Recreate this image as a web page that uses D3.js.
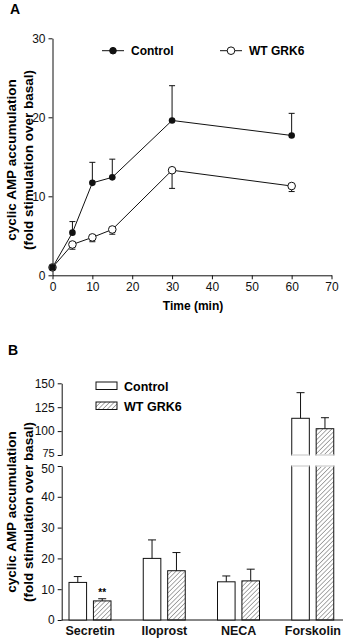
<!DOCTYPE html>
<html>
<head>
<meta charset="utf-8">
<script src="https://cdn.jsdelivr.net/npm/d3@7"></script>
<style>
  body { margin: 0; background: #fff; }
  svg { font-family: "Liberation Sans", Arial, sans-serif; }
  .tick text { font-size: 12px; fill: #111; }
</style>
</head>
<body>
<div id="chart"></div>
<script>
// Panel A data: time course
const times = [0, 5, 10, 15, 30, 60];
const controlMean = [1, 5.4, 11.7, 12.4, 19.6, 17.7];
const controlErr = [0, 1.4, 2.6, 2.3, 4.4, 2.8];
const grkMean = [1, 3.9, 4.8, 5.8, 13.3, 11.3];
const grkErr = [0, 0.6, 0.55, 0.6, 2.3, 0.7];
const xTicksA = [0, 10, 20, 30, 40, 50, 60, 70];
const yTicksA = [0, 10, 20, 30];

// Panel B data: agonists
const agonists = ["Secretin", "Iloprost", "NECA", "Forskolin"];
const barControl = [12.2, 20.0, 12.4, 113.4];
const barControlErr = [1.9, 6.0, 1.9, 26.8];
const barGrk = [6.2, 16.0, 12.7, 102.5];
const barGrkErr = [0.7, 5.9, 3.8, 11.5];
const yTicksLow = [0, 10, 20, 30, 40, 50];
const yTicksHigh = [75, 100, 125, 150];

const svg = d3.select("#chart").append("svg")
    .attr("width", 345)
    .attr("height", 640);

// hatch pattern
svg.append("defs").append("pattern")
    .attr("id", "hatch")
    .attr("patternUnits", "userSpaceOnUse")
    .attr("width", 3.2)
    .attr("height", 3.2)
    .attr("patternTransform", "rotate(45)")
    .append("line")
    .attr("x1", 0).attr("y1", 0).attr("x2", 0).attr("y2", 3.2)
    .attr("stroke", "#666")
    .attr("stroke-width", 1.1);

// ---------- Panel A ----------
const x = d3.scaleLinear().domain([0, 70]).range([52.5, 331.5]);
const y = d3.scaleLinear().domain([0, 30]).range([275.3, 38.3]);

svg.append("text").attr("x", 10).attr("y", 14)
    .style("font-size", "14px").style("font-weight", "bold").text("A");

svg.append("g")
    .attr("transform", `translate(0,${y(0)})`)
    .call(d3.axisBottom(x).tickValues(xTicksA).tickSize(4).tickSizeOuter(0))
    .call(g => g.selectAll("line, path").attr("stroke", "#111"));

svg.append("g")
    .attr("transform", `translate(${x(0)},0)`)
    .call(d3.axisLeft(y).tickValues(yTicksA).tickSize(4).tickSizeOuter(0))
    .call(g => g.selectAll("line, path").attr("stroke", "#111"));

svg.append("text")
    .attr("x", 193).attr("y", 310)
    .attr("text-anchor", "middle")
    .style("font-size", "12px").style("font-weight", "bold")
    .text("Time (min)");

function yLabel(cx, cy) {
    const t = svg.append("text")
        .attr("transform", `translate(${cx},${cy}) rotate(-90)`)
        .attr("text-anchor", "middle")
        .style("font-size", "13.5px").style("font-weight", "bold");
    t.append("tspan").attr("x", 0).attr("y", 0).text("cyclic AMP accumulation");
    t.append("tspan").attr("x", 0).attr("y", 16.5).text("(fold stimulation over basal)");
}
yLabel(16, 160);

const line = d3.line().x(d => x(d[0])).y(d => y(d[1]));
const ctrlPts = times.map((t, i) => [t, controlMean[i], controlErr[i]]);
const grkPts = times.map((t, i) => [t, grkMean[i], grkErr[i]]);

function errBars(pts, dir) {
    const g = svg.append("g").attr("stroke", "#111").attr("stroke-width", 1);
    pts.filter(d => d[2] > 0).forEach(d => {
        const y1 = y(d[1] + dir * d[2]);
        g.append("line").attr("x1", x(d[0])).attr("x2", x(d[0]))
            .attr("y1", y(d[1])).attr("y2", y1);
        g.append("line").attr("x1", x(d[0]) - 3).attr("x2", x(d[0]) + 3)
            .attr("y1", y1).attr("y2", y1);
    });
}
errBars(ctrlPts, 1);
errBars(grkPts, -1);

svg.append("path").datum(grkPts).attr("d", line)
    .attr("fill", "none").attr("stroke", "#111").attr("stroke-width", 1);
svg.append("path").datum(ctrlPts).attr("d", line)
    .attr("fill", "none").attr("stroke", "#111").attr("stroke-width", 1);

svg.selectAll(".grk").data(grkPts).enter().append("circle")
    .attr("cx", d => x(d[0])).attr("cy", d => y(d[1])).attr("r", 3.8)
    .attr("fill", "#fff").attr("stroke", "#111").attr("stroke-width", 1);
svg.selectAll(".ctrl").data(ctrlPts).enter().append("circle")
    .attr("cx", d => x(d[0])).attr("cy", d => y(d[1])).attr("r", 3.3)
    .attr("fill", "#111");

// legend A
const legA = [
    { x: 102, label: "Control", fill: "#111" },
    { x: 220, label: "WT GRK6", fill: "#fff" }
];
legA.forEach(l => {
    svg.append("line").attr("x1", l.x).attr("x2", l.x + 22)
        .attr("y1", 50.7).attr("y2", 50.7).attr("stroke", "#111");
    svg.append("circle").attr("cx", l.x + 11).attr("cy", 50.7)
        .attr("r", l.fill === "#111" ? 3.3 : 3.8)
        .attr("fill", l.fill).attr("stroke", "#111");
    svg.append("text").attr("x", l.x + 29).attr("y", 55)
        .style("font-size", "12px").style("font-weight", "bold").text(l.label);
});

// ---------- Panel B ----------
svg.append("text").attr("x", 8).attr("y", 355)
    .style("font-size", "14px").style("font-weight", "bold").text("B");

const axisX = 61.7;
const yLow = d3.scaleLinear().domain([0, 50]).range([620, 466]);
const yHigh = d3.scaleLinear().domain([75, 150]).range([455, 383.3]);
const x0 = d3.scaleBand().domain(agonists).range([53, 350]).padding(0);
const x1 = d3.scaleBand().domain(["c", "g"]).range([16, 58]).paddingInner(0.28);

svg.append("g")
    .attr("transform", `translate(${axisX},0)`)
    .call(d3.axisLeft(yLow).tickValues(yTicksLow).tickSize(4).tickSizeOuter(0))
    .call(g => g.selectAll("line, path").attr("stroke", "#111"))
    .call(g => g.selectAll(".tick text").filter(d => d === 50).attr("dy", "0.5em"));
svg.append("g")
    .attr("transform", `translate(${axisX},0)`)
    .call(d3.axisLeft(yHigh).tickValues(yTicksHigh).tickSize(4).tickSizeOuter(0))
    .call(g => g.selectAll("line, path").attr("stroke", "#111"))
    .call(g => g.selectAll(".tick text").filter(d => d === 75)
        .attr("dy", "0.18em").style("font-size", "11px"));

// baseline
svg.append("line").attr("x1", axisX).attr("x2", 343)
    .attr("y1", yLow(0)).attr("y2", yLow(0)).attr("stroke", "#111");

svg.append("g")
    .attr("transform", `translate(0,${yLow(0)})`)
    .call(d3.axisBottom(x0).tickSize(0))
    .call(g => g.select(".domain").remove())
    .call(g => g.selectAll("text").attr("dy", "0.95em")
        .style("font-size", "12.5px").style("font-weight", "bold"));

yLabel(16, 512);

const bars = [];
agonists.forEach((a, i) => {
    bars.push({ a, s: "c", v: barControl[i], e: barControlErr[i] });
    bars.push({ a, s: "g", v: barGrk[i], e: barGrkErr[i] });
});

function yB(v) { return v <= 50 ? yLow(v) : yHigh(v); }

bars.forEach(b => {
    const bx = x0(b.a) + x1(b.s);
    const w = x1.bandwidth();
    const fill = b.s === "c" ? "#fff" : "url(#hatch)";
    if (b.v <= 50) {
        svg.append("rect").attr("x", bx).attr("y", yLow(b.v))
            .attr("width", w).attr("height", yLow(0) - yLow(b.v))
            .attr("fill", fill).attr("stroke", "#111");
    } else {
        svg.append("rect").attr("x", bx).attr("y", yLow(50))
            .attr("width", w).attr("height", yLow(0) - yLow(50))
            .attr("fill", fill).attr("stroke", "#111");
        svg.append("rect").attr("x", bx).attr("y", yHigh(b.v))
            .attr("width", w).attr("height", yHigh(75) - yHigh(b.v))
            .attr("fill", fill).attr("stroke", "#111");
        // open the break ends
        svg.append("line").attr("x1", bx).attr("x2", bx + w)
            .attr("y1", yLow(50)).attr("y2", yLow(50)).attr("stroke", "#fff").attr("stroke-width", 1.5);
        svg.append("line").attr("x1", bx).attr("x2", bx + w)
            .attr("y1", yHigh(75)).attr("y2", yHigh(75)).attr("stroke", "#fff").attr("stroke-width", 1.5);
    }
    const cx = bx + w / 2;
    const top = yB(b.v + b.e);
    svg.append("line").attr("x1", cx).attr("x2", cx)
        .attr("y1", yB(b.v)).attr("y2", top).attr("stroke", "#111");
    svg.append("line").attr("x1", cx - 4).attr("x2", cx + 4)
        .attr("y1", top).attr("y2", top).attr("stroke", "#111");
});

// significance mark
svg.append("text")
    .attr("x", x0("Secretin") + x1("g") + x1.bandwidth() / 2)
    .attr("y", yLow(barGrk[0] + barGrkErr[0]) - 3)
    .attr("text-anchor", "middle")
    .style("font-size", "10px").style("font-weight", "bold").text("**");

// legend B
const legB = [
    { y: 382, label: "Control", fill: "#fff" },
    { y: 402, label: "WT GRK6", fill: "url(#hatch)" }
];
legB.forEach(l => {
    svg.append("rect").attr("x", 96).attr("y", l.y)
        .attr("width", 21).attr("height", 7.5)
        .attr("fill", l.fill).attr("stroke", "#111");
    svg.append("text").attr("x", 124).attr("y", l.y + 8.5)
        .style("font-size", "12.5px").style("font-weight", "bold").text(l.label);
});
</script>
</body>
</html>
